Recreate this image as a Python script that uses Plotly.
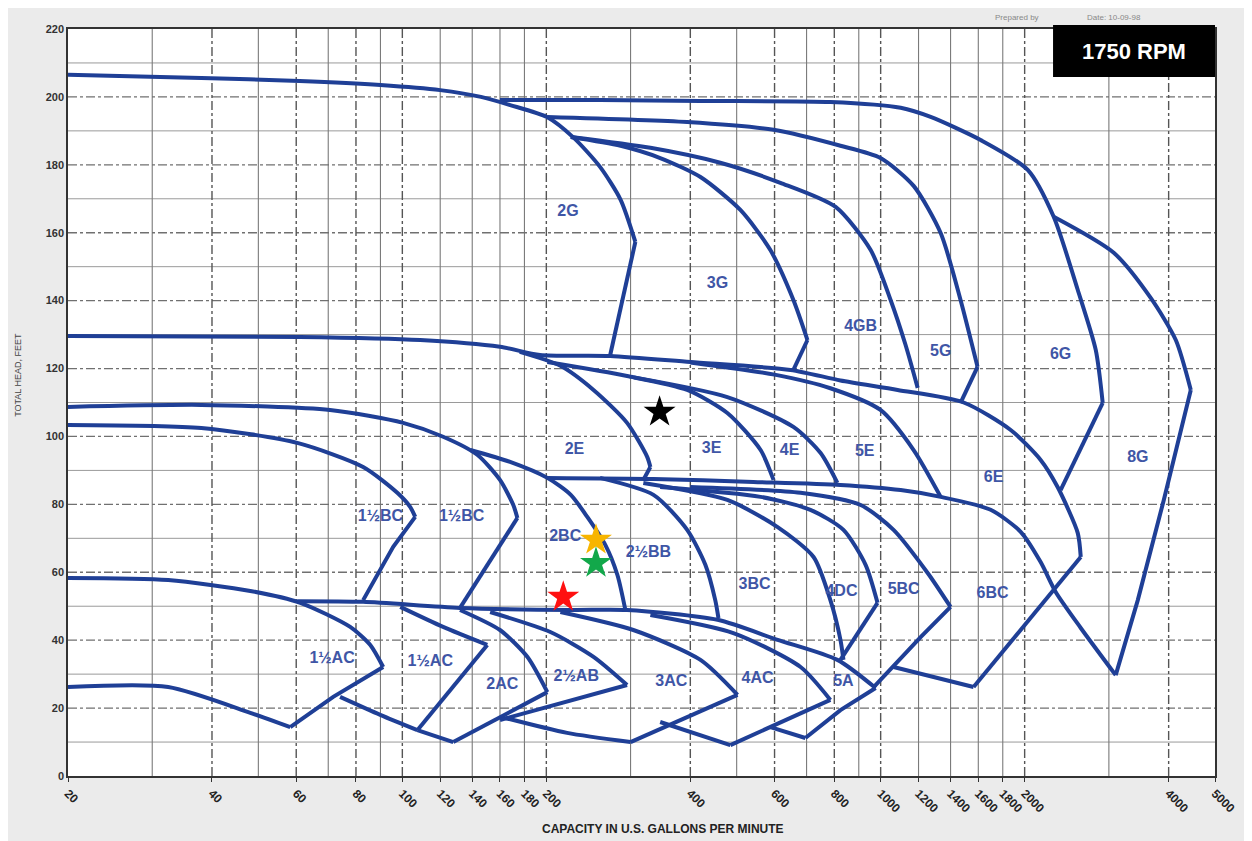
import math
import plotly.graph_objects as go

# ---------------- data (gpm, head ft) ----------------
X_TICKS = [20, 40, 60, 80, 100, 120, 140, 160, 180, 200, 400, 600, 800,
           1000, 1200, 1400, 1600, 1800, 2000, 4000, 5000]
Y_TICKS = list(range(0, 221, 20))
X_GRID_DASH = [40, 60, 80, 100, 200, 400, 600, 800, 1000, 2000, 4000]
X_GRID_SOLID = [30, 50, 70, 90, 120, 140, 160, 180, 300, 500, 700, 900,
                1200, 1400, 1600, 1800, 3000]
Y_GRID_DASH = list(range(20, 201, 20))
Y_GRID_SOLID = list(range(10, 211, 20))

# G family
HC_2G = [(20, 206.5), (38, 205.6), (61, 204.7), (90, 203.5), (120, 202), (146, 200),
         (168, 197.6), (201, 194), (228, 188), (259, 179.4), (286, 169.7), (307, 157.3)]
ED_2G = [(307, 157.3), (272, 124)]
HC_6G = [(160, 199.1), (259, 199.1), (420, 198.8), (785, 198.5), (1101, 196.8), (1272, 194.1),
         (1618, 187.3), (2030, 178.5), (2300, 164.7), (2582, 143.2), (2816, 125.5), (2912, 109.9)]
ED_6G = [(2912, 109.9), (2378, 84.2)]
HC_8G = [(2300, 164.7), (3071, 154.1), (3669, 140.8), (4140, 128.4), (4450, 113.7)]
ED_8G = [(4450, 113.7), (3908, 81.3), (3448, 51.8), (3100, 29.7)]
HC_5G = [(201, 194.1), (394, 192.6), (597, 190.3), (824, 185.6), (999, 182), (1172, 173.8),
         (1335, 159.9), (1469, 140.2), (1594, 120.5)]
ED_5G = [(1594, 120.5), (1469, 109.9)]
HC_4GB = [(225, 188.2), (330, 185), (462, 180.6), (617, 174.7), (805, 167.6), (953, 154.9),
          (1049, 140.2), (1127, 127), (1195, 114.3)]
HC_3G = [(225, 188.2), (286, 185.6), (346, 182), (420, 176.4), (509, 166.7), (588, 154.9),
         (657, 140.2), (703, 128.4)]
ED_3G = [(703, 128.4), (657, 119.6)]

# E family
HC_6E = [(20, 129.6), (61, 129.3), (109, 128.4), (160, 126.4), (194, 124), (272, 123.7),
         (400, 121.9), (648, 119.6), (824, 116.5), (1085, 113.7), (1491, 110), (1870, 101.9),
         (2160, 93.1), (2344, 85.1), (2582, 71.6), (2620, 64.5)]
HC_2E = [(176, 124.9), (214, 120.8), (251, 113.7), (295, 104), (325, 94), (330, 91)]
ED_2E = [(330, 91), (319, 87.2)]
HC_3E = [(201, 121.9), (295, 117.8), (394, 113.7), (478, 106.9), (561, 96), (597, 87.2)]
HC_4E = [(305, 117.4), (478, 111.6), (657, 102.8), (749, 95.1), (812, 86.3)]
HC_5E = [(400, 121.8), (600, 118.2), (785, 114.2), (999, 107.8), (1172, 96), (1335, 82.2)]

# BC family
HC_15BC_B = [(20, 108.7), (38, 109.3), (70.6, 107.8), (100.4, 104), (121.7, 99.9),
             (143.4, 94.6), (160, 87.2), (170.6, 79.8), (174, 76)]
ED_15BC_B = [(174, 76), (132, 49.5)]
HC_15BC_A = [(20, 103.4), (38, 102.5), (60.3, 98.1), (82.8, 91), (97.6, 83.4),
             (103.9, 79.2), (106.4, 76.3)]
ED_15BC_A = [(106.4, 76.3), (95.7, 67.5), (82.8, 51.8)]
HC_2BC = [(138.7, 96), (168, 92.5), (201, 87.8), (225, 82.8), (243.6, 76.3), (265.8, 68),
          (281.6, 59.2), (292.6, 48.9)]
HC_6BC = [(201, 87.8), (335, 87.5), (542, 86.6), (824, 85.7), (1101, 84.2), (1335, 82.2),
          (1698, 78.4), (1962, 71.9), (2160, 63), (2322, 54.2), (2620, 43.6), (3100, 29.7)]
HC_25BB = [(259, 87.8), (335, 82.8), (394, 72.5), (430, 62.2), (451, 51.8), (458, 46.5)]
HC_3BC = [(319, 86.3), (478, 81.3), (609, 73.3), (724, 64.5), (785, 51.8), (824, 40.1), (836, 34.2)]
HC_4DC = [(346, 85.1), (561, 82.2), (713, 78.4), (836, 72.5), (930, 62.2), (985, 51)]
ED_4DC = [(985, 51), (824, 34.2)]
HC_5BC = [(400, 85.1), (680, 83.4), (908, 79.8), (1064, 72.5), (1254, 59.8), (1400, 49.8)]
ED_5BC = [(1400, 49.8), (1212, 40.9), (967, 26.2)]
BT_6BC = [(1064, 32.1), (1564, 26.2)]
ED_6BC = [(1564, 26.2), (2268, 53.9), (2620, 64.5)]

# AC / AB / A family
HC_15AC_A = [(20, 58.3), (32.4, 57.7), (48.1, 54.5), (61.2, 51), (77.8, 43.9), (85.7, 38.6), (91.2, 32.1)]
ED_15AC_A = [(91.2, 32.1), (71.7, 23.3), (58.3, 14.4)]
BT_15AC_A = [(20, 26.2), (32.4, 26.2), (48.1, 18.6), (58.3, 14.4)]
HC_5A = [(60.3, 51.5), (82.8, 51.3), (132, 49.5), (225, 48.9), (295, 48.9), (456, 46),
         (609, 40.1), (812, 34.2), (976, 25.9)]
ED_5A = [(976, 25.9), (824, 19.4), (696, 11.2)]
HC_15AC_B = [(99, 49.8), (121.7, 43.9), (150.5, 38.6)]
ED_15AC_B = [(150.5, 38.6), (107.5, 13.5)]
BT_15AC_B = [(74.1, 23.3), (89.9, 18), (107.5, 13.5)]
HC_2AC = [(132, 48.9), (160, 43), (182.5, 35.1), (201, 24.7)]
ED_2AC = [(201, 24.7), (127.8, 10)]
BT_2AC = [(107.5, 13.5), (127.8, 10)]
HC_25AB = [(152.6, 48.3), (203.9, 42.4), (251, 35.1), (295, 26.8)]
ED_25AB = [(295, 26.8), (160, 16.5)]
HC_3AC = [(214, 48.3), (304, 43), (420, 34.2), (502, 23.9)]
ED_3AC = [(502, 23.9), (300, 10)]
BT_3AC = [(164, 17.1), (221, 12.7), (300, 10)]
HC_4AC = [(330, 47.4), (492, 42.1), (680, 32.1), (785, 22.4)]
ED_4AC = [(785, 22.4), (485, 9.1)]
BT_4AC = [(346, 15.9), (485, 9.1)]
BT_5A = [(588, 14.4), (696, 11.2)]

SMOOTH_CURVES = [HC_2G, HC_6G, HC_8G, HC_5G, HC_4GB, HC_3G, HC_6E, HC_2E, HC_3E, HC_4E,
                 HC_5E, HC_15BC_B, HC_15BC_A, HC_2BC, HC_6BC, HC_25BB, HC_3BC, HC_4DC,
                 HC_5BC, HC_15AC_A, BT_15AC_A, HC_5A, HC_15AC_B, BT_15AC_B, HC_2AC,
                 HC_25AB, HC_3AC, BT_3AC, HC_4AC]
STRAIGHT_EDGES = [ED_2G, ED_6G, ED_8G, ED_5G, ED_3G, ED_2E, ED_15BC_B, ED_15BC_A, ED_4DC,
                  ED_5BC, BT_6BC, ED_6BC, ED_15AC_A, ED_5A, ED_15AC_B, ED_2AC, BT_2AC,
                  ED_25AB, ED_3AC, ED_4AC, BT_4AC, BT_5A]

LABELS = ["2G", "3G", "4GB", "5G", "6G", "8G", "2E", "3E", "4E", "5E", "6E",
          "1½BC", "1½BC", "2BC", "2½BB", "3BC", "4DC", "5BC", "6BC",
          "1½AC", "1½AC", "2AC", "2½AB", "3AC", "4AC", "5A"]
LABEL_Q = [222, 456, 908, 1335, 2378, 3448, 229, 443, 645, 926, 1722,
           90, 133, 219, 327, 545, 828, 1117, 1714,
           71.3, 114.4, 161.8, 231, 365, 553, 836]
LABEL_H = [166.1, 144.9, 132.3, 124.9, 124.0, 93.7, 96.0, 96.3, 95.7, 95.4, 87.8,
           76.3, 76.3, 70.4, 65.7, 56.3, 54.2, 54.8, 53.6,
           34.5, 33.6, 26.8, 29.2, 27.7, 28.6, 27.7]

STAR_Q = [345, 254, 254, 217]
STAR_H = [107.2, 69.5, 62.7, 52.7]
STAR_COLORS = ["#000000", "#f7b500", "#12a84a", "#ff1010"]

# ---------------- figure ----------------
CURVE_COLOR = "#1f3f96"
LABEL_COLOR = "#3f56a6"
fig = go.Figure()


def grid_trace(vals, vertical, dash, color, width):
    xs, ys = [], []
    for v in vals:
        if vertical:
            xs += [v, v, None]
            ys += [0, 220, None]
        else:
            xs += [20, 5000, None]
            ys += [v, v, None]
    fig.add_trace(go.Scatter(x=xs, y=ys, mode="lines", hoverinfo="skip", showlegend=False,
                             line=dict(color=color, width=width, dash=dash)))


grid_trace(Y_GRID_SOLID, False, "solid", "#9a9a9a", 1)
grid_trace(X_GRID_SOLID, True, "solid", "#7a7a7a", 1.1)
grid_trace(Y_GRID_DASH, False, "dashdot", "#707070", 1.3)
grid_trace(X_GRID_DASH, True, "dashdot", "#555555", 1.4)

for pts in SMOOTH_CURVES:
    fig.add_trace(go.Scatter(x=[p[0] for p in pts], y=[p[1] for p in pts], mode="lines",
                             hoverinfo="skip", showlegend=False,
                             line=dict(color=CURVE_COLOR, width=4, shape="spline", smoothing=0.7)))
for pts in STRAIGHT_EDGES:
    fig.add_trace(go.Scatter(x=[p[0] for p in pts], y=[p[1] for p in pts], mode="lines",
                             hoverinfo="skip", showlegend=False,
                             line=dict(color=CURVE_COLOR, width=4)))

fig.add_trace(go.Scatter(x=LABEL_Q, y=LABEL_H, mode="text", text=LABELS, hoverinfo="skip",
                         showlegend=False,
                         textfont=dict(family="Liberation Sans", size=16, color=LABEL_COLOR,
                                       weight="bold")))

fig.add_trace(go.Scatter(x=STAR_Q, y=STAR_H, mode="markers", hoverinfo="skip", showlegend=False,
                         marker=dict(symbol="star", size=24, color=STAR_COLORS,
                                     line=dict(width=0))))

fig.update_layout(
    width=1244, height=833,
    margin=dict(l=60, r=37, t=21, b=65),
    paper_bgcolor="#ebebeb", plot_bgcolor="#ffffff",
    font=dict(family="Liberation Sans", color="#222222"),
    xaxis=dict(type="log", range=[math.log10(20), math.log10(5000)],
               tickmode="array", tickvals=X_TICKS, ticktext=[str(v) for v in X_TICKS],
               tickangle=45, tickfont=dict(size=12, color="#222222", weight="bold"),
               showgrid=False, zeroline=False, showline=True, linecolor="#333333",
               linewidth=1.5, mirror=True, ticks="outside", ticklen=4, tickcolor="#333333"),
    yaxis=dict(range=[0, 220], tickmode="array", tickvals=Y_TICKS,
               tickfont=dict(size=11, color="#333333", weight="bold"),
               showgrid=False, zeroline=False, showline=True, linecolor="#333333",
               linewidth=1.5, mirror=True, ticks=""),
    shapes=[dict(type="rect", xref="paper", yref="paper", x0=0.8588, x1=1.0, y0=0.9357,
                 y1=1.0054, fillcolor="#000000", line=dict(width=0), layer="above")],
    annotations=[
        dict(text="<b>1750 RPM</b>", xref="paper", yref="paper", x=0.9294, y=0.9705,
             xanchor="center", yanchor="middle", showarrow=False,
             font=dict(size=22, color="#ffffff", family="Liberation Sans")),
        dict(text="Prepared by", xref="paper", yref="paper", x=0.827, y=1.016,
             xanchor="center", yanchor="middle", showarrow=False,
             font=dict(size=8, color="#888888")),
        dict(text="Date: 10-09-98", xref="paper", yref="paper", x=0.912, y=1.016,
             xanchor="center", yanchor="middle", showarrow=False,
             font=dict(size=8, color="#888888")),
        dict(text="<b>CAPACITY IN U.S. GALLONS PER MINUTE</b>", xref="paper", yref="paper",
             x=0.519, y=-0.071, xanchor="center", yanchor="middle", showarrow=False,
             font=dict(size=12, color="#222222")),
        dict(text="TOTAL HEAD, FEET", xref="paper", yref="paper", x=-0.0436, y=0.537,
             xanchor="center", yanchor="middle", textangle=-90, showarrow=False,
             font=dict(size=9, color="#444444")),
    ],
)

fig.write_html("out.html")
